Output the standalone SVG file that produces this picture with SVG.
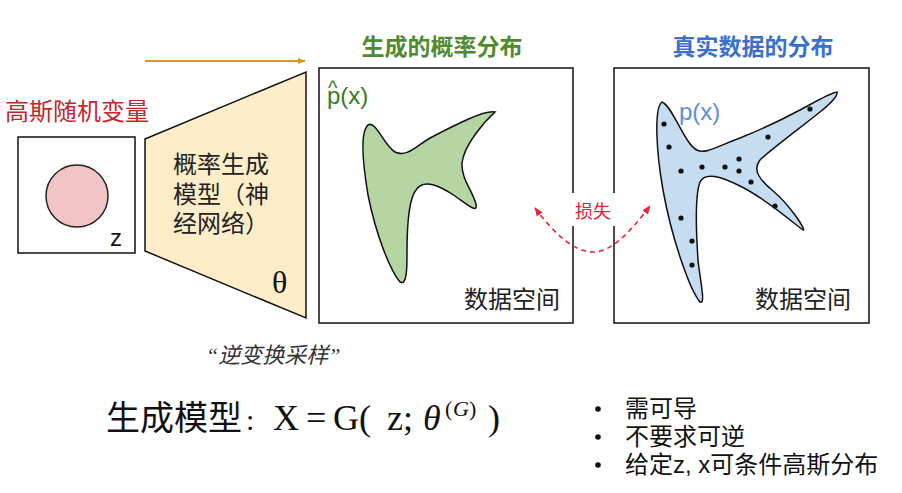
<svg xmlns="http://www.w3.org/2000/svg" width="902" height="493" viewBox="0 0 902 493">
<defs>
<style>
.cjk{font-family:"Noto Sans CJK SC","Liberation Sans",sans-serif;}
.lat{font-family:"Liberation Sans","Noto Sans CJK SC",sans-serif;}
.ser{font-family:"Liberation Serif","Noto Sans CJK SC",serif;}
.box{fill:#ffffff;stroke:#111111;stroke-width:1.5;}
.dot{fill:#111111;}
</style>
<marker id="gold" viewBox="0 0 10 10" refX="9" refY="5" markerWidth="8" markerHeight="8" orient="auto" markerUnits="userSpaceOnUse"><path d="M0,1 L10,5 L0,9 Z" fill="#d49a1c"/></marker>
<marker id="red" viewBox="0 0 10 10" refX="9" refY="5" markerWidth="9" markerHeight="9" orient="auto-start-reverse" markerUnits="userSpaceOnUse"><path d="M0,1 L10,5 L0,9 Z" fill="#ee2233"/></marker>
</defs>
<rect width="902" height="493" fill="#ffffff"/>

<g id="gaussian">
<text x="5" y="120" class="cjk" font-size="24" fill="#c8242c">高斯随机变量</text>
<rect x="18" y="137" width="117" height="116" class="box"/>
<circle cx="77" cy="196" r="31" fill="#f2c4c6" stroke="#222" stroke-width="1.5"/>
<text x="110" y="246" class="lat" font-size="24" fill="#111">z</text>
</g>

<g id="generator">
<polygon points="145,139 306,72 306,318 145,251" fill="#fdeec9" stroke="#111" stroke-width="1.5"/>
<text class="cjk" font-size="24" fill="#222"><tspan x="173" y="173">概率生成</tspan><tspan x="173" y="203">模型（神</tspan><tspan x="173" y="232">经网络）</tspan></text>
<text x="272" y="293" class="ser" font-size="32" fill="#111">θ</text>
</g>

<g id="generated">
<text x="442" y="55" class="cjk" font-size="23" font-weight="bold" fill="#4f8a30" text-anchor="middle">生成的概率分布</text>
<rect x="319" y="68" width="254" height="255" class="box"/>
<text x="327" y="104" class="lat" font-size="24" fill="#3a7a26">p(x)</text>
<text x="328" y="95" class="lat" font-size="20" fill="#3a7a26">^</text>
<path d="M368,125 C360,132 363,165 368,195 C376,235 390,270 400,282 C407,286 407,268 407,252 C407,228 408,200 416,190 C424,178 440,186 455,196 C468,205 478,214 476,204 C472,190 461,178 462,163 C464,145 484,122 495,112 C484,110 455,125 432,137 C418,144 408,158 395,152 C384,146 376,120 368,125 Z" fill="#b5d5a2" stroke="#111" stroke-width="1.5"/>
<rect x="460" y="283" width="111" height="32" fill="#fff"/>
<text x="464" y="308" class="cjk" font-size="24" fill="#222">数据空间</text>
</g>

<g id="real">
<text x="753" y="55" class="cjk" font-size="23" font-weight="bold" fill="#3a6fcc" text-anchor="middle">真实数据的分布</text>
<rect x="614" y="68" width="255" height="255" class="box"/>
<path d="M662,102 C654,108 656,150 663,190 C672,240 690,290 700,302 C706,305 700,280 698,260 C696,230 695,195 700,182 C705,172 720,176 740,186 C765,198 792,222 803,230 C807,231 790,205 772,190 C760,180 752,170 760,160 C770,150 800,128 820,112 C830,104 838,96 837,92 C830,93 815,102 800,110 C785,118 760,130 740,138 C720,145 705,155 697,150 C685,145 672,105 662,102 Z" fill="#c6dcf1" stroke="#111" stroke-width="1.5"/>
<text x="679" y="120" class="lat" font-size="24" fill="#5a8fd8">p(x)</text>
<g class="dot">
<circle cx="664" cy="124" r="2.6"/><circle cx="669" cy="147" r="2.6"/><circle cx="681" cy="171" r="2.6"/>
<circle cx="702" cy="167" r="2.6"/><circle cx="725" cy="167" r="2.6"/><circle cx="739" cy="159" r="2.6"/>
<circle cx="739" cy="171" r="2.6"/><circle cx="751" cy="182" r="2.6"/><circle cx="768" cy="137" r="2.6"/>
<circle cx="775" cy="206" r="2.6"/><circle cx="810" cy="109" r="2.6"/><circle cx="681" cy="218" r="2.6"/>
<circle cx="692" cy="241" r="2.6"/><circle cx="692" cy="265" r="2.6"/>
</g>
<text x="755" y="308" class="cjk" font-size="24" fill="#222">数据空间</text>
</g>

<g id="connectors">
<line x1="145" y1="61" x2="305" y2="61" stroke="#d49a1c" stroke-width="2" marker-end="url(#gold)"/>
<rect x="570" y="193" width="47" height="33" fill="#fff"/>
<path d="M535,208 C555,235 575,252 593,252 C612,252 630,232 650,206" fill="none" stroke="#ee2233" stroke-width="1.6" stroke-dasharray="5,4" marker-start="url(#red)" marker-end="url(#red)"/>
<text x="593" y="218" class="cjk" font-size="18" fill="#e8203a" text-anchor="middle">损失</text>
</g>

<g id="labels">
<text x="206" y="363" class="ser" font-size="22" font-style="italic" fill="#333">“逆变换采样”</text>
<text y="430" fill="#111"><tspan x="106" class="cjk" font-size="34">生成模型</tspan><tspan x="246" class="ser" font-size="30">:</tspan><tspan x="273" class="ser" font-size="36">X</tspan><tspan x="306" class="ser" font-size="36">=</tspan><tspan x="333" class="ser" font-size="36">G(</tspan><tspan x="387" class="ser" font-size="36">z;</tspan><tspan x="423" class="ser" font-size="36" font-style="italic">θ</tspan><tspan x="445" class="ser" font-size="22" dy="-14">(</tspan><tspan x="453" class="ser" font-size="22" font-style="italic">G</tspan><tspan x="469" class="ser" font-size="22">)</tspan><tspan x="488" class="ser" font-size="36" dy="14">)</tspan></text>
<g font-size="24" fill="#111">
<circle cx="598" cy="409" r="2.8" fill="#111"/><text x="625" y="417" class="cjk">需可导</text>
<circle cx="598" cy="437" r="2.8" fill="#111"/><text x="625" y="445" class="cjk">不要求可逆</text>
<circle cx="598" cy="465" r="2.8" fill="#111"/><text x="625" y="473" class="lat">给定z, x可条件高斯分布</text>
</g>
</g>
</svg>
